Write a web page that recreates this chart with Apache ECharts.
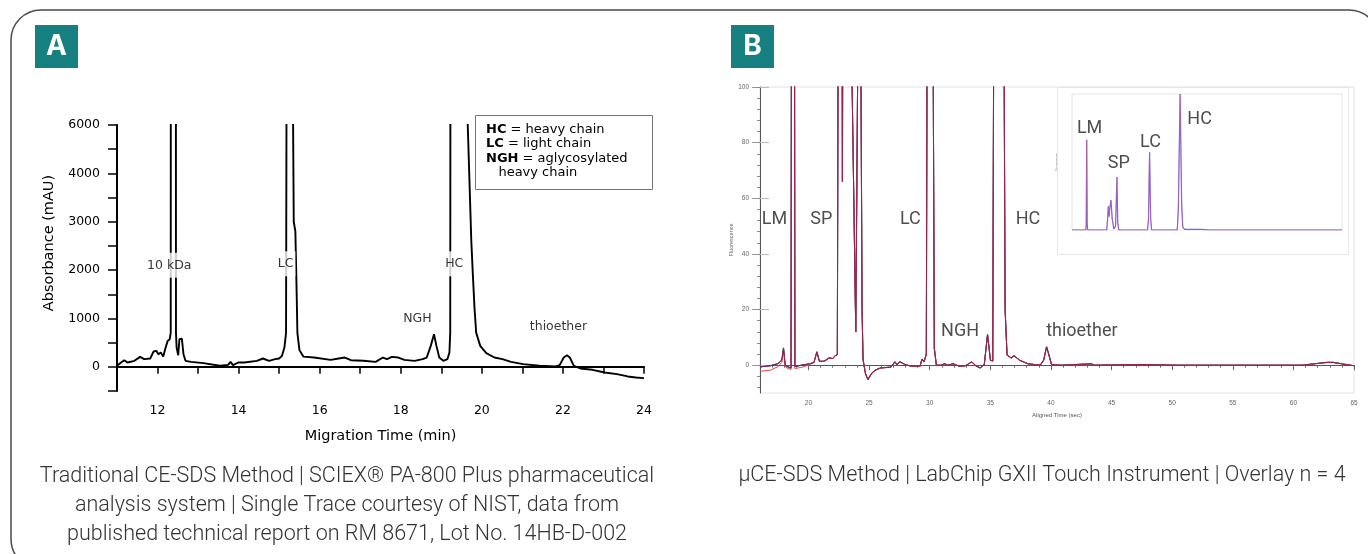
<!DOCTYPE html>
<html>
<head>
<meta charset="utf-8">
<title>CE-SDS vs µCE-SDS</title>
<script src="https://cdn.jsdelivr.net/npm/echarts@6/dist/echarts.min.js"></script>
<style>html,body{margin:0;padding:0;background:#fff;}</style>
</head>
<body>
<div id="main" style="width:1368px;height:554px;"></div>
<script>
var chart = echarts.init(document.getElementById('main'));

// Panel A: single CE-SDS trace, [migration time (min), absorbance slot]
var traceA = [
  [11.0, 20], [11.1, 90], [11.18, 137], [11.26, 90], [11.43, 124], [11.57, 206], [11.67, 158],
  [11.82, 172], [11.9, 316], [11.97, 330], [12.02, 261], [12.08, 295], [12.14, 213], [12.2, 398],
  [12.25, 536], [12.3, 570], [12.325, 700], [12.33, 12000], [12.45, 12000], [12.455, 700],
  [12.47, 400], [12.51, 240], [12.54, 570], [12.6, 584], [12.64, 261], [12.69, 124], [12.83, 103],
  [13.13, 76], [13.54, 21], [13.74, 41], [13.8, 103], [13.86, 34], [13.99, 89], [14.14, 89],
  [14.45, 124], [14.6, 172], [14.75, 124], [14.9, 158], [15.0, 172], [15.07, 227], [15.13, 398],
  [15.17, 700], [15.19, 9000], [15.3, 9000], [15.32, 8000], [15.36, 3000], [15.4, 2800],
  [15.43, 1600], [15.45, 700], [15.5, 350], [15.6, 210], [15.86, 192], [16.27, 144], [16.47, 172],
  [16.62, 192], [16.77, 137], [17.08, 124], [17.38, 103], [17.56, 192], [17.66, 158], [17.78, 206],
  [17.94, 192], [18.09, 144], [18.34, 124], [18.54, 158], [18.64, 192], [18.74, 433], [18.82, 673],
  [18.88, 433], [18.95, 192], [19.05, 124], [19.15, 158], [19.2, 295], [19.22, 700], [19.23, 12000],
  [19.55, 12000], [19.63, 5600], [19.74, 2600], [19.78, 1875], [19.82, 1200], [19.86, 707],
  [19.96, 433], [20.11, 282], [20.31, 192], [20.51, 158], [20.72, 103], [21.02, 55], [21.42, 21],
  [21.82, 7], [21.92, 34], [22.02, 192], [22.1, 240], [22.17, 192], [22.27, 21], [22.43, -34],
  [22.73, -62], [23.03, -117], [23.33, -151], [23.6, -199], [23.8, -220], [24.0, -234]
];
var peaksA = [
  [12.29, 2100, '10 kDa'], [15.16, 2130, 'LC'], [19.32, 2130, 'HC'],
  [18.41, 1000, 'NGH'], [21.89, 820, 'thioether']
];
var xTicksA = [12, 14, 16, 18, 20, 22, 24];
var yTickValuesA = [0, 1000, 2000, 3000, 4000, 5000];
var yTickTextA = ['0', '1000', '2000', '3000', '4000', '6000'];

// Panel B: overlay of 4 µCE-SDS traces, [aligned time (sec), fluorescence]
var traceB = [
  [16, -0.6], [16.85, -0.2], [17.5, 0.6], [17.8, 1.8], [17.94, 6.2], [18.08, 0], [18.3, -0.6],
  [18.56, -1], [18.6, 150], [18.84, 150], [18.88, -0.5], [19.4, 0], [20.1, 0.5], [20.45, 1],
  [20.69, 4.8], [20.9, 1.4], [21.3, 1.4], [21.7, 2.6], [21.99, 2.4], [22.2, 3.4], [22.38, 3.8],
  [22.46, 150], [22.76, 150], [22.8, 66], [22.84, 150], [23.5, 130], [23.9, 12], [24.1, 130],
  [24.3, 130], [24.42, 20], [24.5, 2], [24.7, -3], [24.9, -5.2], [25.2, -3], [25.5, -1.8],
  [25.93, -1], [26.79, -0.7], [27.13, 1.2], [27.3, 0.2], [27.54, 1.2], [27.98, 0.2], [28.5, -0.4],
  [29.2, -0.4], [29.36, 2.2], [29.53, 1.2], [29.72, 4], [29.8, 150], [30.25, 150], [30.38, 6],
  [30.55, 0], [30.9, 0], [31.24, 0.5], [31.5, 0], [31.93, 0.5], [32.44, -0.4], [32.95, -0.2],
  [33.47, 1.2], [33.8, -0.2], [34.15, -1], [34.5, 0.2], [34.77, 11], [35.01, 1.8], [35.2, 1.5],
  [35.3, 150], [36.1, 150], [36.22, 20], [36.38, 3.6], [36.72, 2.6], [36.96, 3.4], [37.41, 1.8],
  [38.1, 0.5], [39.12, 0], [39.4, 1.8], [39.64, 6.6], [39.8, 4.2], [40.05, 0.2], [40.84, 0],
  [43.34, 0.5], [43.58, 0], [47.35, 0.2], [50.4, 0], [53.86, 0], [57.28, 0], [60.7, 0],
  [61.74, 0.5], [62.77, 1], [63.28, 1], [63.97, 0.5], [65, -0.2]
];
// the red run sits lower at the start
var traceBRedStart = [
  [16, -2.2], [16.85, -1.8], [17.5, -0.5], [17.8, 1.0], [17.94, 5.5], [18.08, -0.5], [18.3, -1.2],
  [18.56, -1.5], [18.6, 150], [18.84, 150], [18.88, -1.2], [19.4, -0.8], [20.1, 0.2]
];
var peaksB = [
  [17.2, 52.5, 'LM'], [21.05, 52.5, 'SP'], [28.4, 52.5, 'LC'], [38.1, 52.5, 'HC'],
  [32.5, 12.2, 'NGH'], [42.55, 12.2, 'thioether']
];
var xTicksB = [20, 25, 30, 35, 40, 45, 50, 55, 60, 65];
var yTicksB = [0, 20, 40, 60, 80, 100];
var yMinorB = [-8, -4, 0, 4, 8, 12, 16, 20, 24, 28, 32, 36, 40, 44, 48, 52, 56, 60, 64, 68, 72, 76, 80, 84, 88, 92, 96, 100];

// Inset: full-scale view
var insetB = [
  [16, 0], [18.5, 0], [18.58, 30], [18.67, 504], [18.76, 30], [18.85, 0], [22.3, 0], [22.45, 60],
  [22.6, 133], [22.75, 75], [22.85, 120], [23.07, 167], [23.3, 60], [23.6, 6], [23.9, 20],
  [24.03, 150], [24.16, 296], [24.3, 40], [24.5, 0], [29.7, 0], [29.88, 60], [30.08, 435],
  [30.28, 60], [30.45, 0], [35.1, 0], [35.3, 120], [35.62, 760], [35.9, 150], [36.1, 15],
  [36.5, 3], [39.4, 3], [39.7, 7], [40.0, 2], [41, 0], [65, 0]
];
var peaksInset = [[19.2, 565, 'LM'], [24.5, 370, 'SP'], [30.24, 491, 'LC'], [39.16, 615, 'HC']];

var captionA = 'Traditional CE-SDS Method | SCIEX\u00AE PA-800 Plus pharmaceutical\nanalysis system | Single Trace courtesy of NIST, data from\npublished technical report on RM 8671, Lot No. 14HB-D-002';
var captionB = '\u00B5CE-SDS Method | LabChip GXII Touch Instrument | Overlay n = 4';

var fontA = 'DejaVu Sans';
var fontB = 'Roboto';

function pickLabel(d) { return d.data[2]; }

var option = {
  animation: false,
  backgroundColor: '#fff',
  grid: [
    { left: 117, top: 125, width: 527, height: 266 },
    { left: 760, top: 87, width: 594, height: 306, show: true, borderColor: '#e2e2e2', borderWidth: 1 },
    { left: 1072, top: 94, width: 270, height: 136, show: true, borderColor: '#e4e4e4', borderWidth: 1, backgroundColor: '#fff', z: 4 }
  ],
  xAxis: [
    {
      gridIndex: 0, type: 'value', min: 11, max: 24, interval: 1, position: 'bottom',
      name: 'Migration Time (min)', nameLocation: 'middle', nameGap: 38,
      nameTextStyle: { fontFamily: fontA, fontSize: 14.5, color: '#000' },
      axisLine: { lineStyle: { color: '#000', width: 2 } },
      axisTick: { length: 7, lineStyle: { color: '#000', width: 1.5 } },
      axisLabel: {
        margin: 13, fontFamily: fontA, fontSize: 12.5, color: '#000',
        formatter: function (v) { return xTicksA.indexOf(v) >= 0 ? String(v) : ''; }
      },
      splitLine: { show: false }
    },
    {
      gridIndex: 1, type: 'value', min: 16, max: 65, interval: 1, position: 'bottom',
      name: 'Aligned Time (sec)', nameLocation: 'middle', nameGap: 16,
      nameTextStyle: { fontFamily: 'Liberation Sans', fontSize: 6, color: '#555' },
      axisLine: { lineStyle: { color: '#555', width: 1 } },
      axisTick: { length: 2.5, lineStyle: { color: '#666', width: 1 } },
      axisLabel: {
        customValues: xTicksB, margin: 7, fontFamily: 'Liberation Sans', fontSize: 6.5, color: '#666'
      },
      splitLine: { show: false }
    },
    {
      gridIndex: 1, type: 'value', min: 16, max: 65, position: 'bottom',
      axisLine: { show: false },
      axisTick: { customValues: xTicksB, length: 5, lineStyle: { color: '#666', width: 1 } },
      axisLabel: { show: false },
      splitLine: { show: false }
    },
    {
      gridIndex: 2, type: 'value', min: 16, max: 65, interval: 1, position: 'bottom',
      name: 'Aligned Time (sec)', nameLocation: 'middle', nameGap: 9,
      nameTextStyle: { fontFamily: 'Liberation Sans', fontSize: 3, color: '#888' },
      axisLine: { lineStyle: { color: '#999', width: 1 } },
      axisTick: { length: 1.5, lineStyle: { color: '#aaa', width: 0.6 } },
      axisLabel: { customValues: xTicksB, margin: 4, fontFamily: 'Liberation Sans', fontSize: 3, color: '#999' },
      splitLine: { show: false }
    }
  ],
  yAxis: [
    {
      gridIndex: 0, type: 'value', min: -500, max: 5000, interval: 500, position: 'left',
      name: 'Absorbance (mAU)', nameLocation: 'middle', nameGap: 60, nameRotate: 90,
      nameTextStyle: { fontFamily: fontA, fontSize: 14.5, color: '#000', padding: [0, 0, 0, 30] },
      axisLine: { lineStyle: { color: '#000', width: 2 } },
      axisTick: { length: 9, lineStyle: { color: '#000', width: 1.5 } },
      axisLabel: {
        margin: 17, fontFamily: fontA, fontSize: 12.5, color: '#000',
        formatter: function (v) {
          var i = yTickValuesA.indexOf(v);
          return i < 0 ? '' : yTickTextA[i];
        }
      },
      splitLine: { show: false }
    },
    {
      gridIndex: 1, type: 'value', min: -10, max: 100, position: 'left',
      name: 'Fluorescence', nameLocation: 'middle', nameGap: 22, nameRotate: 90,
      nameTextStyle: { fontFamily: 'Liberation Sans', fontSize: 5.5, color: '#666' },
      axisLine: { lineStyle: { color: '#555', width: 1 } },
      axisTick: { customValues: yTicksB, length: 8, lineStyle: { color: '#999', width: 1 } },
      axisLabel: { customValues: yTicksB, margin: 11, fontFamily: 'Liberation Sans', fontSize: 6.5, color: '#666' },
      splitLine: { show: false }
    },
    {
      gridIndex: 1, type: 'value', min: -10, max: 100, position: 'left',
      axisLine: { show: false },
      axisTick: { customValues: yTicksB, inside: true, length: 9, lineStyle: { color: '#bbb', width: 1 } },
      axisLabel: { show: false },
      splitLine: { show: false }
    },
    {
      gridIndex: 1, type: 'value', min: -10, max: 100, position: 'left',
      axisLine: { show: false },
      axisTick: { customValues: yMinorB, length: 3, lineStyle: { color: '#888', width: 1 } },
      axisLabel: { show: false },
      splitLine: { show: false }
    },
    {
      gridIndex: 2, type: 'value', min: 0, max: 760, interval: 100, position: 'left',
      name: 'Fluorescence', nameLocation: 'middle', nameGap: 10, nameRotate: 90,
      nameTextStyle: { fontFamily: 'Liberation Sans', fontSize: 3, color: '#888' },
      axisLine: { lineStyle: { color: '#999', width: 1 } },
      axisTick: { length: 2, lineStyle: { color: '#aaa', width: 0.6 } },
      axisLabel: { margin: 4, fontFamily: 'Liberation Sans', fontSize: 3, color: '#999' },
      splitLine: { show: false }
    }
  ],
  series: [
    {
      type: 'line', xAxisIndex: 0, yAxisIndex: 0, data: traceA, symbol: 'none', z: 2,
      lineStyle: { color: '#000', width: 1.9 }
    },
    {
      type: 'scatter', xAxisIndex: 0, yAxisIndex: 0, data: peaksA, symbolSize: 0, z: 5,
      label: {
        show: true, position: 'inside', formatter: pickLabel,
        fontFamily: fontA, fontSize: 12.5, color: '#000',
        backgroundColor: '#fff', padding: [6, 2]
      }
    },
    {
      type: 'line', xAxisIndex: 1, yAxisIndex: 1, data: traceB, symbol: 'none', z: 2,
      lineStyle: { color: '#2d5e30', width: 1 }
    },
    {
      type: 'line', xAxisIndex: 1, yAxisIndex: 1, data: traceB, symbol: 'none', z: 2,
      lineStyle: { color: '#3d3ed8', width: 1 }
    },
    {
      type: 'line', xAxisIndex: 1, yAxisIndex: 1,
      data: traceBRedStart.concat(traceB.filter(function (p) { return p[0] > 20.1; })),
      symbol: 'none', z: 2,
      lineStyle: { color: '#e6453f', width: 1 }
    },
    {
      type: 'line', xAxisIndex: 1, yAxisIndex: 1, data: traceB, symbol: 'none', z: 2,
      lineStyle: { color: '#8a1d4c', width: 1.1, opacity: 0.85 }
    },
    {
      type: 'scatter', xAxisIndex: 1, yAxisIndex: 1, data: peaksB, symbolSize: 0, z: 5,
      label: {
        show: true, position: 'inside', formatter: pickLabel,
        fontFamily: fontB, fontSize: 18, color: '#222'
      }
    },
    {
      type: 'line', xAxisIndex: 3, yAxisIndex: 4, data: insetB, symbol: 'none', z: 6,
      lineStyle: { color: '#5b4fe6', width: 1.2, opacity: 0.85 }
    },
    {
      type: 'line', xAxisIndex: 3, yAxisIndex: 4, data: insetB, symbol: 'none', z: 6,
      lineStyle: { color: '#d9547d', width: 0.8, opacity: 0.5 }
    },
    {
      type: 'scatter', xAxisIndex: 3, yAxisIndex: 4, data: peaksInset, symbolSize: 0, z: 7,
      label: {
        show: true, position: 'inside', formatter: pickLabel,
        fontFamily: fontB, fontSize: 18, color: '#222'
      }
    }
  ],
  graphic: [
    {
      type: 'rect', z: 0, silent: true,
      shape: { x: 11, y: 10, width: 1368, height: 559, r: 30 },
      style: { fill: 'none', stroke: '#4a4a4a', lineWidth: 1.5 }
    },
    { type: 'rect', shape: { x: 35, y: 25, width: 43, height: 43 }, style: { fill: '#15807f' } },
    {
      type: 'text', x: 56.5, y: 47, z: 10,
      style: { text: 'A', fill: '#fff', font: 'bold 28px Inter', textAlign: 'center', textVerticalAlign: 'middle' }
    },
    { type: 'rect', shape: { x: 731, y: 25, width: 43, height: 43 }, style: { fill: '#15807f' } },
    {
      type: 'text', x: 752.5, y: 47, z: 10,
      style: { text: 'B', fill: '#fff', font: 'bold 28px Inter', textAlign: 'center', textVerticalAlign: 'middle' }
    },
    // legend box of panel A
    {
      type: 'rect', z: 8, shape: { x: 475.5, y: 115.5, width: 177, height: 74 },
      style: { fill: '#fff', stroke: '#777', lineWidth: 1 }
    },
    {
      type: 'text', x: 486, y: 122, z: 9,
      style: {
        text: '{b|HC} = heavy chain\n{b|LC} = light chain\n{b|NGH} = aglycosylated\n   heavy chain',
        fill: '#000', font: '13px "DejaVu Sans"', lineHeight: 14.5,
        rich: {
          b: { fontWeight: 'bold', fontFamily: 'DejaVu Sans', fontSize: 13, lineHeight: 14.5, fill: '#000' }
        }
      }
    },
    // captions
    {
      type: 'text', x: 347, y: 506,
      style: {
        text: captionA, fill: '#333', font: '300 21.5px Roboto', lineHeight: 29,
        textAlign: 'center', textVerticalAlign: 'middle'
      }
    },
    {
      type: 'text', x: 1042, y: 476,
      style: {
        text: captionB, fill: '#333', font: '300 21.5px Roboto',
        textAlign: 'center', textVerticalAlign: 'middle'
      }
    },
    // inset frame
    {
      type: 'rect', z: 3, shape: { x: 1057.5, y: 87.5, width: 291, height: 167 },
      style: { fill: '#fff', stroke: '#e6e6e6', lineWidth: 1 }
    }
  ]
};

chart.setOption(option);
</script>
</body>
</html>
